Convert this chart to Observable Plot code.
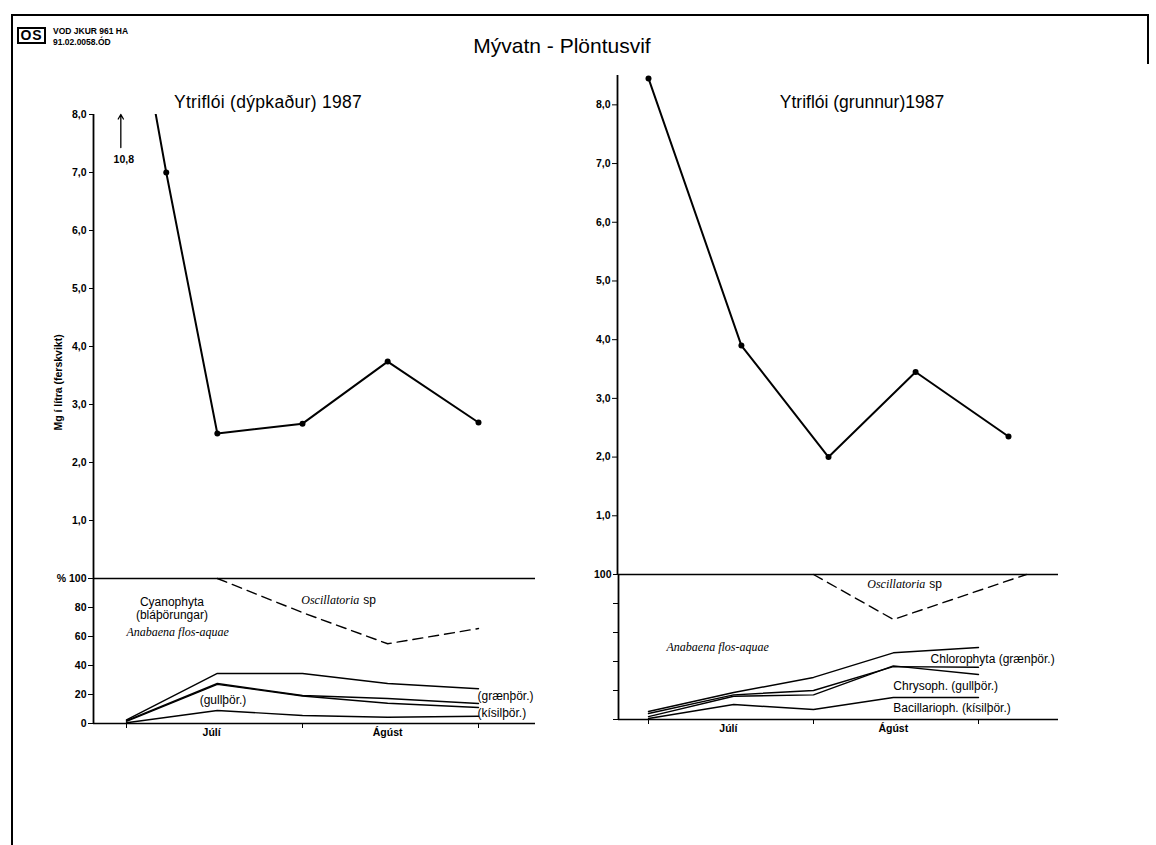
<!DOCTYPE html>
<html>
<head>
<meta charset="utf-8">
<script src="https://cdn.jsdelivr.net/npm/d3@7"></script>
<script src="https://cdn.jsdelivr.net/npm/@observablehq/plot@0.6"></script>
<style>
  body { margin: 0; background: #fff; }
  #page { position: relative; width: 1156px; height: 845px; overflow: hidden; background: #fff;
          font-family: "Liberation Sans", Arial, Helvetica, sans-serif; color: #000; }
  .t { position: absolute; white-space: pre; }
</style>
</head>
<body>
<div id="page"></div>
<script>
const D = (m, d) => new Date(Date.UTC(1987, m - 1, d));

// ---------- DATA ----------
// Biomass, mg / litre (fresh weight)
const leftTopDates  = [D(7,1), D(7,8), D(7,17), D(8,1), D(8,16), D(9,1)];
const leftTopValues = [10.8, 7.0, 2.5, 2.67, 3.74, 2.69];
const rightTopDates  = [D(7,1), D(7,17), D(8,1), D(8,16), D(9,1)];
const rightTopValues = [8.45, 3.9, 2.0, 3.45, 2.35];

// Composition, cumulative %
const sampleDates = [D(7,1), D(7,17), D(8,1), D(8,16), D(9,1)];
const leftBacillario = [0.5, 9, 5.5, 4.3, 5];
const leftChryso     = [1.5, 27, 19, 14, 11];
const leftChrysoB    = [2, 27.6, 19.3, 17.2, 13.8];
const leftChloro     = [2.5, 34.5, 34.5, 27.6, 24];
const leftOscDates   = [D(7,17), D(8,1), D(8,16), D(9,1)];
const leftOsc        = [100, 76.5, 55, 65.5];

const rightBacillario = [0.7, 10.3, 6.9, 15.2, 15.2];
const rightChryso     = [2, 16, 17, 37, 31];
const rightChrysoB    = [4.1, 17, 20, 36.5, 36];
const rightChloro     = [5.5, 18.6, 29, 46, 49.7];
const rightOscDates   = [D(8,1), D(8,16), D(9,10)];
const rightOsc        = [100, 69, 100];

// Ticks and labels
const mgTicks = [1, 2, 3, 4, 5, 6, 7, 8];
const pctTicks = [0, 20, 40, 60, 80, 100];
const monthTicks = [D(7,1), D(8,1), D(9,1)];
const monthLabels = [{date: D(7,16), label: "Júlí"}, {date: D(8,16), label: "Ágúst"}];

// Annotations (data coordinates)
const offscaleArrow = [{x: D(6,30), y1: 7.43, y2: 8.0}];
const offscaleLabel = [{x: D(6,30), y: 7.22, text: "10,8"}];
const yAxisLabel = [{y: 3.38, text: "Mg í lítra (ferskvikt)"}];
const leftLabelsMid = [
  {x: D(7,9),  y: 83.4, text: "Cyanophyta"},
  {x: D(7,9),  y: 74.5, text: "(bláþörungar)"},
  {x: D(7,18), y: 15.9, text: "(gullþör.)"}
];
const leftLabelsStart = [
  {x: D(9,1),  y: 18.6, text: "(grænþör.)"},
  {x: D(9,1),  y: 6.9,  text: "(kísilþör.)"}
];
const leftAnabaena = [{x: D(7,10), y: 62.8, text: "Anabaena flos-aquae"}];
const leftOscLabel = [{x: D(8,11), y: 84.8, text: "Oscillatoria"}];
const leftSp = [{x: D(8,11), y: 84.8, text: "sp"}];
const rightLabels = [
  {x: D(8,23), y: 41.4, text: "Chlorophyta (grænþör.)"},
  {x: D(8,16), y: 22.8, text: "Chrysoph. (gullþör.)"},
  {x: D(8,16), y: 7.6,  text: "Bacillarioph. (kísilþör.)"}
];
const rightAnabaena = [{x: D(7,14), y: 49.7, text: "Anabaena flos-aquae"}];
const rightOscLabel = [{x: D(8,22), y: 93, text: "Oscillatoria"}];
const rightSp = [{x: D(8,22), y: 93, text: "sp"}];

// ---------- HELPERS ----------
const W = 1156, H = 845;
const FONT = "'Liberation Sans', Arial, Helvetica, sans-serif";
const SERIF = "'Liberation Serif', 'Times New Roman', serif";
const page = document.getElementById("page");
const rows = (dates, values, series) => dates.map((date, i) => ({date, value: values[i], series}));
const dec = d => d.toFixed(1).replace(".", ",");

function layer(opts) {
  const svg = Plot.plot({width: W, height: H, ...opts});
  Object.assign(svg.style, {position: "absolute", left: "0px", top: "0px", background: "transparent",
    overflow: "visible", fontFamily: FONT, maxWidth: "none"});
  page.appendChild(svg);
}
function html(text, css) {
  const el = document.createElement("div");
  el.className = "t";
  el.textContent = text;
  Object.assign(el.style, css);
  page.appendChild(el);
  return el;
}
function box(css) {
  const el = document.createElement("div");
  el.style.position = "absolute";
  Object.assign(el.style, css);
  page.appendChild(el);
}

// ---------- FRAME & HEADER ----------
box({left: "11px", top: "14px", width: "1138px", height: "2px", background: "#000"});
box({left: "11px", top: "14px", width: "2px", height: "831px", background: "#000"});
box({left: "1147px", top: "14px", width: "2px", height: "50px", background: "#000"});
box({left: "17px", top: "27px", width: "25px", height: "13px", border: "2px solid #000"});
html("OS", {left: "17px", top: "27px", width: "29px", height: "17px", textAlign: "center",
  fontSize: "14px", lineHeight: "17px", fontWeight: "bold", letterSpacing: "1px"});
html("VOD JKUR 961 HA", {left: "53px", top: "27px", fontSize: "8.5px", lineHeight: "9px", fontWeight: "bold"});
html("91.02.0058.ÓD", {left: "53px", top: "38px", fontSize: "8.5px", lineHeight: "9px", fontWeight: "bold"});
html("Mývatn - Plöntusvif", {left: "412px", top: "35px", width: "300px", textAlign: "center",
  fontSize: "21px", lineHeight: "21px"});
html("Ytriflói (dýpkaður) 1987", {left: "118px", top: "94px", width: "300px", textAlign: "center",
  fontSize: "17.5px", lineHeight: "17px", letterSpacing: "0.3px"});
html("Ytriflói (grunnur)1987", {left: "712px", top: "94px", width: "300px", textAlign: "center",
  fontSize: "17.5px", lineHeight: "17px"});

// ---------- SCALES ----------
const xDomain = [D(7,1), D(9,1)];
const xLeftRange = [126, 478];
const xRightBottomRange = [648, 978];
const xRightTopRange = [648, 1008];
const axisLeftDate = d3.scaleUtc(xDomain, xLeftRange).invert(93);
const axisRightTopDate = d3.scaleUtc(xDomain, xRightTopRange).invert(617);
const axisRightBottomDate = d3.scaleUtc(xDomain, xRightBottomRange).invert(618);

const tickText = {fontWeight: "bold", fontSize: 10.5, fontFamily: FONT};
const labelText = {fontSize: 12, fontFamily: FONT};
const italicText = {fontSize: 12, fontFamily: SERIF, fontStyle: "italic"};

// ---------- TOP LEFT ----------
const tl = rows(leftTopDates, leftTopValues, "biomass");
layer({
  marginTop: 114, marginBottom: H - 578, marginLeft: 93, marginRight: W - 535,
  x: {type: "utc", domain: xDomain, range: xLeftRange, axis: null},
  y: {domain: [0, 8]},
  marks: [
    Plot.ruleX([axisLeftDate], {stroke: "#000", strokeWidth: 1.8}),
    Plot.axisY(mgTicks, {anchor: "left", tickSize: 4, tickPadding: 3, tickFormat: dec, label: null, ...tickText}),
    Plot.line(tl, {x: "date", y: "value", stroke: "#000", strokeWidth: 2, clip: true}),
    Plot.dot(tl.filter(d => d.value <= 8), {x: "date", y: "value", r: 3, fill: "#000"}),
    Plot.arrow(offscaleArrow, {x1: "x", x2: "x", y1: "y1", y2: "y2", stroke: "#000", strokeWidth: 1.3, headLength: 6}),
    Plot.text(offscaleLabel, {x: "x", y: "y", text: "text", ...tickText, dx: 3}),
    Plot.text(yAxisLabel, {y: "y", text: "text", frameAnchor: "left", textAnchor: "middle", dx: -35, rotate: -90,
      fontWeight: "bold", fontSize: 10.5, fontFamily: FONT})
  ]
});

// ---------- TOP RIGHT ----------
const tr = rows(rightTopDates, rightTopValues, "biomass");
layer({
  marginTop: 75, marginBottom: H - 574, marginLeft: 617, marginRight: W - 1058,
  x: {type: "utc", domain: xDomain, range: xRightTopRange, axis: null},
  y: {domain: [0, 8.5]},
  marks: [
    Plot.ruleX([axisRightTopDate], {stroke: "#000", strokeWidth: 1.8}),
    Plot.axisY(mgTicks, {anchor: "left", tickSize: 5, tickPadding: 2, tickFormat: dec, label: null, ...tickText}),
    Plot.line(tr, {x: "date", y: "value", stroke: "#000", strokeWidth: 2}),
    Plot.dot(tr, {x: "date", y: "value", r: 3, fill: "#000"})
  ]
});

// ---------- BOTTOM LEFT ----------
const bl = [
  ...rows(sampleDates, leftBacillario, "kísilþör."),
  ...rows(sampleDates, leftChryso, "gullþör."),
  ...rows(sampleDates, leftChrysoB, "gullþör. b"),
  ...rows(sampleDates, leftChloro, "grænþör.")
];
layer({
  marginTop: 578, marginBottom: H - 723, marginLeft: 93, marginRight: W - 535,
  x: {type: "utc", domain: xDomain, range: xLeftRange},
  y: {domain: [0, 100]},
  marks: [
    Plot.ruleX([axisLeftDate], {stroke: "#000", strokeWidth: 1.8}),
    Plot.ruleY([0, 100], {stroke: "#000", strokeWidth: 1.6}),
    Plot.axisY(pctTicks, {anchor: "left", tickSize: 5, tickPadding: 2, label: null,
      tickFormat: d => d === 100 ? "% 100" : String(d), ...tickText}),
    Plot.axisX(monthTicks, {anchor: "bottom", tickSize: 5, tickFormat: () => "", label: null}),
    Plot.text(monthLabels, {x: "date", text: "label", frameAnchor: "bottom", textAnchor: "middle", dy: 12, ...tickText}),
    Plot.line(bl, {x: "date", y: "value", z: "series", stroke: "#000", strokeWidth: 1.4}),
    Plot.line(rows(leftOscDates, leftOsc, "Oscillatoria"), {x: "date", y: "value", stroke: "#000",
      strokeWidth: 1.4, strokeDasharray: "10,6"}),
    Plot.text(leftLabelsMid, {x: "x", y: "y", text: "text", textAnchor: "middle", ...labelText}),
    Plot.text(leftLabelsStart, {x: "x", y: "y", text: "text", textAnchor: "start", dx: -1, ...labelText}),
    Plot.text(leftAnabaena, {x: "x", y: "y", text: "text", textAnchor: "middle", ...italicText}),
    Plot.text(leftOscLabel, {x: "x", y: "y", text: "text", textAnchor: "end", ...italicText}),
    Plot.text(leftSp, {x: "x", y: "y", text: "text", textAnchor: "start", dx: 4, ...labelText})
  ]
});

// ---------- BOTTOM RIGHT ----------
const br = [
  ...rows(sampleDates, rightBacillario, "kísilþör."),
  ...rows(sampleDates, rightChryso, "gullþör."),
  ...rows(sampleDates, rightChrysoB, "gullþör. b"),
  ...rows(sampleDates, rightChloro, "grænþör.")
];
layer({
  marginTop: 574, marginBottom: H - 719, marginLeft: 618, marginRight: W - 1058,
  x: {type: "utc", domain: xDomain, range: xRightBottomRange},
  y: {domain: [0, 100]},
  marks: [
    Plot.ruleX([axisRightBottomDate], {stroke: "#000", strokeWidth: 1.8}),
    Plot.ruleY([0, 100], {stroke: "#000", strokeWidth: 1.6}),
    Plot.axisY(pctTicks, {anchor: "left", tickSize: 5, tickPadding: 2, label: null,
      tickFormat: d => d === 100 ? "100" : "", ...tickText}),
    Plot.axisX(monthTicks, {anchor: "bottom", tickSize: 5, tickFormat: () => "", label: null}),
    Plot.text(monthLabels, {x: "date", text: "label", frameAnchor: "bottom", textAnchor: "middle", dy: 12, ...tickText}),
    Plot.line(br, {x: "date", y: "value", z: "series", stroke: "#000", strokeWidth: 1.4}),
    Plot.line(rows(rightOscDates, rightOsc, "Oscillatoria"), {x: "date", y: "value", stroke: "#000",
      strokeWidth: 1.4, strokeDasharray: "10,6"}),
    Plot.text(rightLabels, {x: "x", y: "y", text: "text", textAnchor: "start", ...labelText}),
    Plot.text(rightAnabaena, {x: "x", y: "y", text: "text", textAnchor: "middle", ...italicText}),
    Plot.text(rightOscLabel, {x: "x", y: "y", text: "text", textAnchor: "end", ...italicText}),
    Plot.text(rightSp, {x: "x", y: "y", text: "text", textAnchor: "start", dx: 4, ...labelText})
  ]
});
</script>
</body>
</html>
